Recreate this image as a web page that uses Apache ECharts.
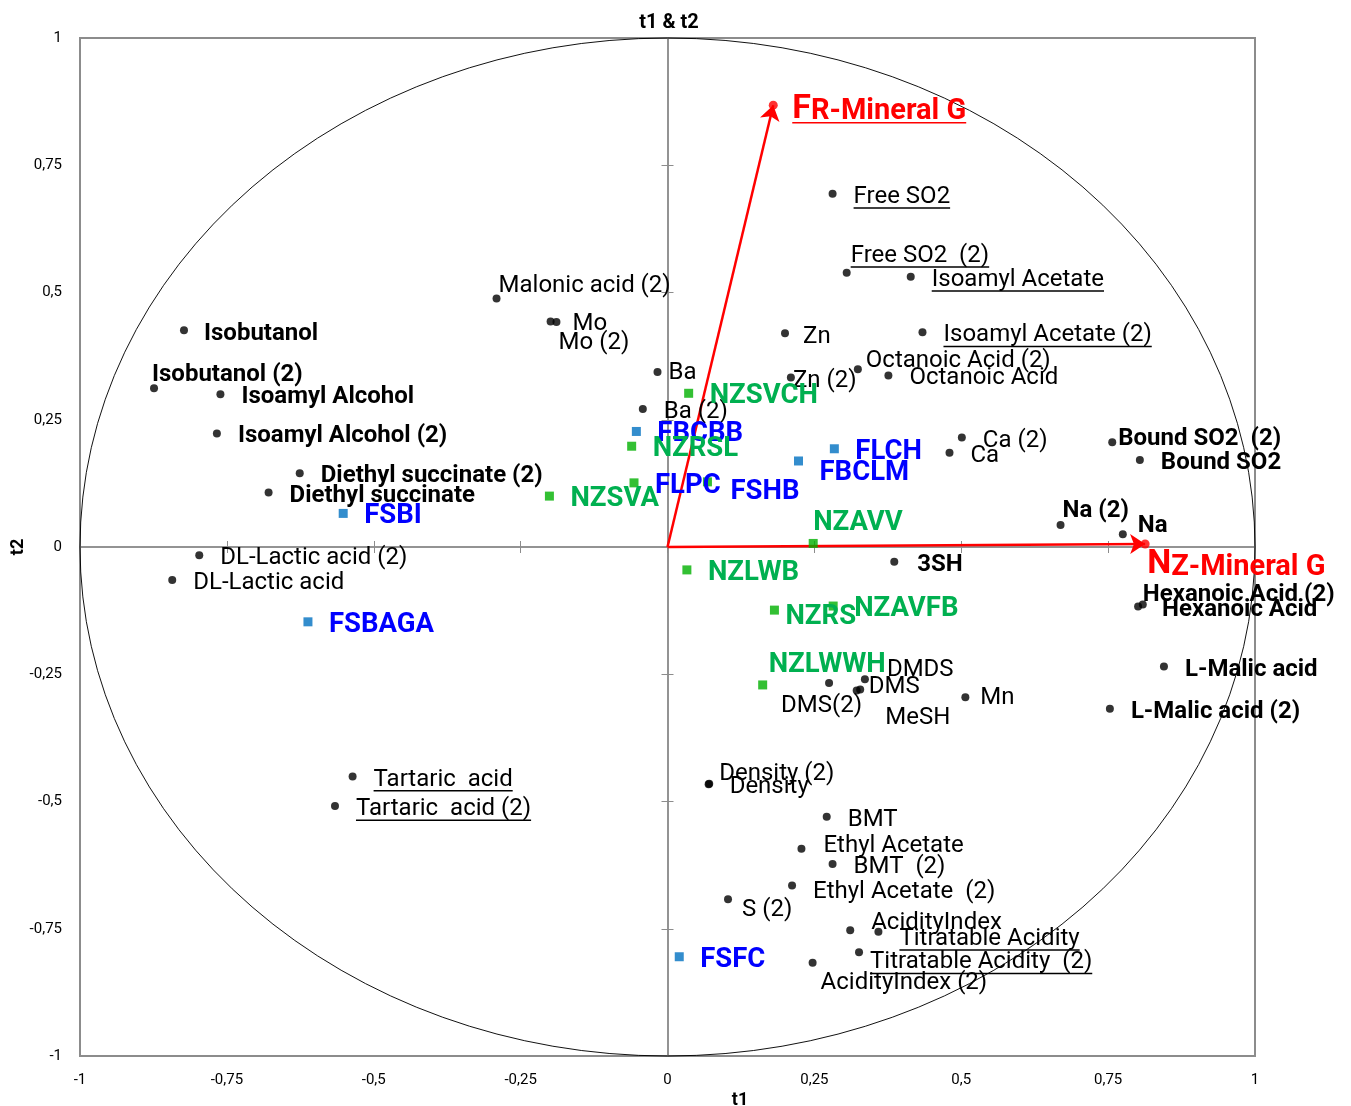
<!DOCTYPE html>
<html>
<head>
<meta charset="utf-8">
<script src="https://cdn.jsdelivr.net/npm/echarts@6/dist/echarts.min.js"></script>
<style>
  html, body { margin: 0; padding: 0; background: #fff; }
  #chart { width: 1351px; height: 1106px; }
</style>
</head>
<body>
<div id="chart"></div>
<script>
// active variables (black dots)
const varNames = [
  'Isobutanol', 'Isobutanol (2)', 'Isoamyl Alcohol', 'Isoamyl Alcohol (2)',
  'Diethyl succinate (2)', 'Diethyl succinate', 'Malonic acid (2)', 'Mo', 'Mo (2)',
  'Ba', 'Ba (2)', 'Free SO2', 'Free SO2  (2)', 'Isoamyl Acetate', 'Zn',
  'Isoamyl Acetate (2)', 'Zn (2)', 'Octanoic Acid (2)', 'Octanoic Acid', 'Ca (2)', 'Ca',
  'Bound SO2  (2)', 'Bound SO2', 'Na (2)', 'Na', '3SH', 'Hexanoic Acid (2)',
  'Hexanoic Acid', 'L-Malic acid', 'L-Malic acid (2)', 'DL-Lactic acid (2)',
  'DL-Lactic acid', 'Tartaric  acid', 'Tartaric  acid (2)', 'DMS(2)', 'DMDS', 'DMS',
  'MeSH', 'Mn', 'Density', 'Density (2)', 'BMT', 'Ethyl Acetate', 'BMT  (2)',
  'Ethyl Acetate  (2)', 'S (2)', 'AcidityIndex', 'Titratable Acidity',
  'Titratable Acidity  (2)', 'AcidityIndex (2)'
]
const varT1 = [
  -0.823, -0.874, -0.761, -0.767, -0.626, -0.679, -0.291, -0.189, -0.199, -0.017,
  -0.042, 0.281, 0.305, 0.414, 0.200, 0.434, 0.210, 0.324, 0.376, 0.501,
  0.480, 0.757, 0.804, 0.669, 0.775, 0.386, 0.809, 0.801, 0.845, 0.753,
  -0.797, -0.843, -0.536, -0.566, 0.275, 0.336, 0.322, 0.328, 0.507, 0.070,
  0.071, 0.271, 0.228, 0.281, 0.212, 0.103, 0.311, 0.359, 0.326, 0.247
]
const varT2 = [
  0.426, 0.312, 0.300, 0.223, 0.145, 0.107, 0.488, 0.442, 0.443, 0.344,
  0.271, 0.694, 0.539, 0.531, 0.420, 0.422, 0.333, 0.349, 0.337, 0.215,
  0.185, 0.206, 0.171, 0.043, 0.025, -0.029, -0.113, -0.117, -0.235, -0.318,
  -0.016, -0.065, -0.451, -0.509, -0.267, -0.260, -0.282, -0.280, -0.295, -0.466,
  -0.465, -0.530, -0.593, -0.623, -0.665, -0.692, -0.753, -0.756, -0.796, -0.817
]

// FR observations (blue)
const frNames = ['FBCBB', 'FSBI', 'FSBAGA', 'FSFC', 'FLCH', 'FBCLM', 'FLPC', 'FSHB']
const frT1 = [-0.053, -0.552, -0.612, 0.020, 0.284, 0.223, -0.057, 0.068]
const frT2 = [0.227, 0.066, -0.147, -0.805, 0.193, 0.169, 0.126, 0.128]

// NZ observations (green)
const nzNames = ['NZSVCH', 'NZRSL', 'NZSVA', 'NZAVV', 'NZLWB', 'NZRS', 'NZAVFB', 'NZLWWH']
const nzT1 = [0.036, -0.061, -0.201, 0.248, 0.033, 0.182, 0.282, 0.162]
const nzT2 = [0.302, 0.198, 0.100, 0.007, -0.045, -0.124, -0.116, -0.271]

// supplementary variables (red vectors)
const supNames = ['FR-Mineral G', 'NZ-Mineral G']
const supT1 = [0.180, 0.813]
const supT2 = [0.868, 0.006]

// correlation circle
const circleT1 = [0]
const circleT2 = [0]
const circleR = [1]

// label placement (pixels from the point), default is right of it
const labelNudge = {
  'Isobutanol': [20, 2], 'Isobutanol (2)': [-2, -15], 'Malonic acid (2)': [2, -15],
  'Mo': [16, 0], 'Mo (2)': [8, 19], 'Ba': [11, -1], 'FSHB': [23, 8], 'FBCLM': [21, 10],
  'Free SO2  (2)': [4, -19], 'Zn': [18, 2], 'Zn (2)': [2, 1], 'Octanoic Acid (2)': [8, -10],
  'Bound SO2  (2)': [6, -5], 'Na (2)': [2, -16], 'Na': [15, -10], '3SH': [23, 1],
  'Hexanoic Acid (2)': [0, -12], 'Hexanoic Acid': [24, 1], 'NZ-Mineral G': [2, 19],
  'FR-Mineral G': [19, 2], 'NZAVV': [0, -22], 'NZRS': [11, 5], 'NZLWWH': [6, -22],
  'DMS(2)': [-48, 21], 'DMDS': [22, -11], 'DMS': [12, -6], 'MeSH': [25, 26], 'Mn': [15, -1],
  'Density (2)': [10, -12], 'Ethyl Acetate': [22, -5], 'Ethyl Acetate  (2)': [21, 5],
  'S (2)': [14, 9], 'AcidityIndex': [21, -9], 'Titratable Acidity': [21, 5],
  'Titratable Acidity  (2)': [11, 8], 'AcidityIndex (2)': [8, 18]
}
const boldNames = new Set([
  'Isobutanol', 'Isobutanol (2)', 'Isoamyl Alcohol', 'Isoamyl Alcohol (2)',
  'Diethyl succinate (2)', 'Diethyl succinate', 'Bound SO2  (2)', 'Bound SO2',
  'Na (2)', 'Na', '3SH', 'Hexanoic Acid (2)', 'Hexanoic Acid', 'L-Malic acid', 'L-Malic acid (2)'
])
const underlined = new Set([
  'Free SO2', 'Free SO2  (2)', 'Isoamyl Acetate', 'Isoamyl Acetate (2)', 'Tartaric  acid',
  'Tartaric  acid (2)', 'Titratable Acidity', 'Titratable Acidity  (2)', 'FR-Mineral G'
])
const greenMarked = new Set(['FLPC', 'FSHB'])

const FONT = 'Roboto'
const measureCtx = document.createElement('canvas').getContext('2d')
function textWidth(text, weight, size) {
  measureCtx.font = weight + ' ' + size + 'px ' + FONT
  return measureCtx.measureText(text).width
}

function labelSeries(names, t1, t2, look) {
  return {
    type: 'custom',
    coordinateSystem: 'cartesian2d',
    clip: false,
    silent: true,
    z: 10,
    encode: { x: 0, y: 1 },
    data: names.map((n, i) => [t1[i], t2[i]]),
    renderItem(params, api) {
      const name = names[params.dataIndex]
      const p = api.coord([api.value(0), api.value(1)])
      const nudge = labelNudge[name] || [21, 1]
      const x = p[0] + nudge[0]
      const y = p[1] + nudge[1] + 2
      const weight = look.bold || boldNames.has(name) ? 'bold' : 'normal'
      const children = []
      let width
      if (look.big) {
        const first = name.charAt(0)
        const rest = name.slice(1)
        children.push({
          type: 'text', x, y,
          style: {
            text: '{a|' + first + '}{b|' + rest + '}',
            verticalAlign: 'middle', align: 'left',
            rich: {
              a: { fontSize: look.big, fontWeight: 'bold', fontFamily: FONT, fill: look.color, verticalAlign: 'bottom' },
              b: { fontSize: look.size, fontWeight: 'bold', fontFamily: FONT, fill: look.color, verticalAlign: 'bottom' }
            }
          }
        })
        width = textWidth(first, 'bold', look.big) + textWidth(rest, 'bold', look.size)
      } else {
        children.push({
          type: 'text', x, y,
          style: {
            text: name, fill: look.color, fontSize: look.size, fontWeight: weight,
            fontFamily: FONT, align: 'left', verticalAlign: 'middle'
          }
        })
        width = textWidth(name, weight, look.size)
      }
      if (underlined.has(name)) {
        const uy = y + look.size * 0.47
        children.push({
          type: 'line',
          shape: { x1: x, y1: uy, x2: x + width, y2: uy },
          style: { stroke: look.color, lineWidth: 1.5 }
        })
      }
      return { type: 'group', children }
    }
  }
}

function centerAxis(pos, inside) {
  return {
    type: 'value', min: -1, max: 1, interval: 0.25, position: pos,
    axisLine: { show: true, onZero: true, lineStyle: { color: '#8c8c8c', width: 1.5 } },
    axisTick: { show: true, inside, length: 6, lineStyle: { color: '#8c8c8c', width: 1 } },
    axisLabel: { show: false },
    splitLine: { show: false }
  }
}

const fmt = v => String(v).replace('.', ',')

const chart = echarts.init(document.getElementById('chart'))
chart.setOption({
  backgroundColor: '#fff',
  animation: false,
  grid: {
    left: 80, right: 96, top: 38, bottom: 50,
    show: true, borderColor: '#8c8c8c', borderWidth: 2, backgroundColor: '#fff'
  },
  xAxis: [
    {
      type: 'value', min: -1, max: 1, interval: 0.25,
      axisLine: { show: false, onZero: false },
      axisTick: { show: false },
      splitLine: { show: false },
      axisLabel: { margin: 17, color: '#000', fontSize: 15, fontFamily: FONT, formatter: fmt, showMinLabel: true, showMaxLabel: true }
    },
    centerAxis('bottom', true),
    centerAxis('bottom', false)
  ],
  yAxis: [
    {
      type: 'value', min: -1, max: 1, interval: 0.25,
      axisLine: { show: false, onZero: false },
      axisTick: { show: false },
      splitLine: { show: false },
      axisLabel: { margin: 18, color: '#000', fontSize: 15, fontFamily: FONT, formatter: fmt, showMinLabel: true, showMaxLabel: true }
    },
    centerAxis('left', true),
    centerAxis('left', false)
  ],
  graphic: [
    { type: 'text', x: 669, y: 23, style: { text: 't1 & t2', font: 'bold 20px ' + FONT, fill: '#000', align: 'center', verticalAlign: 'middle' } },
    { type: 'text', x: 740, y: 1100, style: { text: 't1', font: 'bold 18px ' + FONT, fill: '#000', align: 'center', verticalAlign: 'middle' } },
    { type: 'text', x: 18, y: 547, rotation: Math.PI / 2, style: { text: 't2', font: 'bold 18px ' + FONT, fill: '#000', align: 'center', verticalAlign: 'middle' } }
  ],
  series: [
    {
      type: 'custom',
      coordinateSystem: 'cartesian2d',
      silent: true,
      z: 1,
      encode: { x: 0, y: 1 },
      data: circleT1.map((v, i) => [v, circleT2[i], circleR[i]]),
      renderItem(params, api) {
        const c = api.coord([api.value(0), api.value(1)])
        const r = api.value(2)
        const rx = api.size([r, 0])[0]
        const ry = api.size([0, r])[1]
        return {
          type: 'circle', x: c[0], y: c[1], scaleY: ry / rx,
          shape: { cx: 0, cy: 0, r: rx },
          style: { fill: 'none', stroke: '#000', lineWidth: 1, strokeNoScale: true }
        }
      }
    },
    {
      type: 'lines',
      coordinateSystem: 'cartesian2d',
      silent: true,
      z: 4,
      symbol: ['none', 'arrow'],
      symbolSize: 15,
      lineStyle: { color: '#ff0000', width: 2.5, opacity: 1 },
      data: supT1.map((v, i) => ({ coords: [[0, 0], [v, supT2[i]]] }))
    },
    {
      type: 'scatter', z: 5, silent: true,
      symbol: 'circle', symbolSize: 8,
      itemStyle: { color: '#000' },
      data: varT1.map((v, i) => [v, varT2[i]])
    },
    {
      type: 'scatter', z: 5, silent: true,
      symbol: 'rect', symbolSize: 9,
      itemStyle: { color: p => greenMarked.has(frNames[p.dataIndex]) ? '#00b000' : '#0070c0' },
      data: frT1.map((v, i) => [v, frT2[i]])
    },
    {
      type: 'scatter', z: 5, silent: true,
      symbol: 'rect', symbolSize: 9,
      itemStyle: { color: '#00b000' },
      data: nzT1.map((v, i) => [v, nzT2[i]])
    },
    {
      type: 'scatter', z: 5, silent: true,
      symbol: 'circle', symbolSize: 9,
      itemStyle: { color: '#ff0000' },
      data: supT1.map((v, i) => [v, supT2[i]])
    },
    labelSeries(varNames, varT1, varT2, { color: '#000', size: 24 }),
    labelSeries(frNames, frT1, frT2, { color: '#0000ff', size: 27.5, bold: true }),
    labelSeries(nzNames, nzT1, nzT2, { color: '#00b050', size: 27.5, bold: true }),
    labelSeries(supNames, supT1, supT2, { color: '#ff0000', size: 29, big: 34, bold: true })
  ]
})
</script>
</body>
</html>
